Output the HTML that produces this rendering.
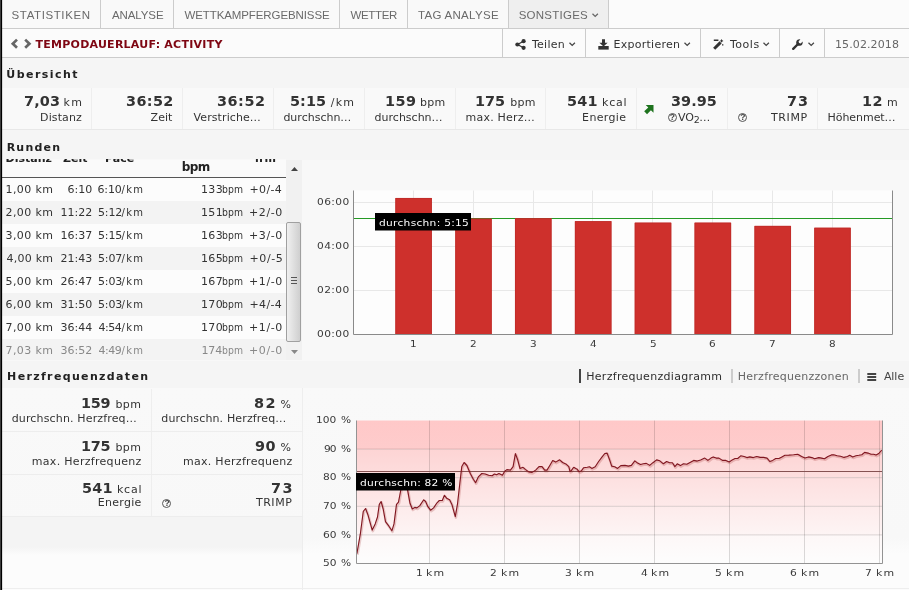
<!DOCTYPE html>
<html lang="de"><head><meta charset="utf-8"><title>Tempodauerlauf: Activity</title>
<style>
*{box-sizing:border-box;margin:0;padding:0}
html,body{width:909px;height:590px;overflow:hidden}
body{position:relative;background:#f5f5f5;font:11px/20px "DejaVu Sans", "Liberation Sans", sans-serif;color:#333}
.abs{position:absolute}
span{position:absolute;white-space:nowrap;line-height:20px}
#lb{left:0;top:0;width:3px;height:590px;background:linear-gradient(90deg,#3c3c3c 0,#3c3c3c 1px,#000 1px,#000 2px,rgba(0,0,0,.12) 2px);z-index:5}
.a{font-family:"Liberation Sans", sans-serif}
#tabs{left:0;top:0;width:909px;height:29px;border-bottom:1px solid #ccc;background:#fbfbfb}
#tabs div{position:absolute;top:0;height:28px;border-right:1px solid #ccc;background:#f9f9f9}
#hdr{left:0;top:29px;width:909px;height:29px;border-bottom:1px solid #ccc;background:#fbfbfb}
.hb{position:absolute;top:29px;height:28px;border-left:1px solid #ccc}
svg{position:absolute;overflow:visible}
.cell{position:absolute;border-right:1px solid #eee}
.pan{position:absolute;left:2px;width:907px;background:#f9f9f9}
.hr{border-bottom:1px solid #ededed}
.q{position:absolute;width:9px;height:9px;border:1px solid #555;border-radius:50%}
#tbl{left:2px;top:159px;width:284px;height:201px;overflow:hidden}
.row{position:absolute;left:2px;width:284px;height:23px}
#sb{left:286px;top:160px;width:16px;height:200px;background:#f1f1f1}
.sep{position:absolute;top:369px;width:2px;height:14px}
</style></head>
<body>
<div class="abs" id="lb"></div>
<div class="pan" style="top:88px;height:41px"></div>
<div class="pan" style="top:160px;height:201px;background:#f8f8f8"></div>
<div class="pan" style="top:388px;height:202px;background:linear-gradient(#f9f9f9 0,#f8f8f8 150px,#fcfcfc 166px)"></div>
<div class="pan" style="top:517px;width:300px;height:73px;background:linear-gradient(#f4f4f4 0,#f4f4f4 30px,#fcfcfc 38px)"></div>
<div class="abs" style="left:302px;top:388px;width:1px;height:202px;background:#ededed"></div>
<div class="abs" style="left:2px;top:588px;width:907px;height:1px;background:#eee"></div>
<div class="abs" id="tabs"><div style="left:2px;width:99px"></div><div style="left:101px;width:73px"></div><div style="left:174px;width:166px"></div><div style="left:340px;width:68px"></div><div style="left:408px;width:101px"></div><div style="left:509px;width:100px;background:#efefef"></div><span class="a" style="left:11.6px;top:5.3px;font-size:11.5px;color:#6a6a6a;letter-spacing:0.6px;">STATISTIKEN</span><span class="a" style="left:112.0px;top:5.3px;font-size:11.5px;color:#6a6a6a;letter-spacing:-0.1px;">ANALYSE</span><span class="a" style="left:184.5px;top:5.3px;font-size:11.5px;color:#6a6a6a;letter-spacing:-0.1px;">WETTKAMPFERGEBNISSE</span><span class="a" style="left:350.5px;top:5.3px;font-size:11.5px;color:#6a6a6a;letter-spacing:-0.35px;">WETTER</span><span class="a" style="left:418.0px;top:5.3px;font-size:11.5px;color:#6a6a6a;letter-spacing:0.3px;">TAG ANALYSE</span><span class="a" style="left:518.7px;top:5.3px;font-size:11.5px;color:#6a6a6a;letter-spacing:0.25px;">SONSTIGES</span><svg style="left:591.6px;top:13px" width="7" height="5" viewBox="0 0 7 5"><path d="M0.5 0.7 L3.2 3.4 L5.9 0.7" fill="none" stroke="#666" stroke-width="1.25"/></svg></div>
<div class="abs" id="hdr"></div>
<svg style="left:10px;top:38px" width="23" height="12" viewBox="0 0 23 12"><path d="M7 1.6 L2.8 5.7 L7 9.8" fill="none" stroke="#666" stroke-width="2.7"/><path d="M15.2 1.6 L19.4 5.7 L15.2 9.8" fill="none" stroke="#666" stroke-width="2.7"/></svg>
<span style="left:35.5px;top:35.3px;font-weight:bold;color:#7e0612;letter-spacing:0.25px;">TEMPODAUERLAUF: ACTIVITY</span>
<div class="hb" style="left:502px;width:83px"></div>
<div class="hb" style="left:585px;width:115px"></div>
<div class="hb" style="left:700px;width:79px"></div>
<div class="hb" style="left:779px;width:45px"></div>
<div class="hb" style="left:824px;width:85px"></div>
<svg style="left:515px;top:38.5px" width="11" height="11" viewBox="0 0 11 11"><path d="M2.5 5.5 L8.5 2.2 M2.5 5.5 L8.5 8.8" stroke="#333" stroke-width="1.3" fill="none"/><circle cx="2.4" cy="5.5" r="2.1" fill="#333"/><circle cx="8.6" cy="2.2" r="2.1" fill="#333"/><circle cx="8.6" cy="8.8" r="2.1" fill="#333"/></svg>
<span style="left:532.0px;top:35.1px;letter-spacing:0.25px;">Teilen</span>
<svg style="left:568.5px;top:42px" width="7" height="5" viewBox="0 0 7 5"><path d="M0.5 0.7 L3.2 3.4 L5.9 0.7" fill="none" stroke="#444" stroke-width="1.25"/></svg>
<svg style="left:597.5px;top:38.5px" width="11" height="11" viewBox="0 0 11 11"><path d="M4 0.3 h3 v3.4 h2.6 L5.5 7.6 L1.4 3.7 h2.6z" fill="#333"/><path d="M0.3 7 h10.4 v3.6 h-10.4z" fill="#333"/></svg>
<span style="left:613.6px;top:35.1px;letter-spacing:0.25px;">Exportieren</span>
<svg style="left:683.5px;top:42px" width="7" height="5" viewBox="0 0 7 5"><path d="M0.5 0.7 L3.2 3.4 L5.9 0.7" fill="none" stroke="#444" stroke-width="1.25"/></svg>
<svg style="left:713px;top:38.5px" width="11" height="11" viewBox="0 0 11 11"><path d="M1.2 9.8 L7.6 3.4" stroke="#333" stroke-width="3" fill="none"/><path d="M0.8 0.6 H5.4 V1.9 H0.8z M8.6 0 L9.3 1.2 L10.5 1.9 L9.3 2.6 L8.6 3.8 L7.9 2.6 L6.7 1.9 L7.9 1.2z M9 5.2 H10.4 V6.4 H9z" fill="#333"/></svg>
<span style="left:729.9px;top:35.1px;letter-spacing:0.55px;">Tools</span>
<svg style="left:762.5px;top:42px" width="7" height="5" viewBox="0 0 7 5"><path d="M0.5 0.7 L3.2 3.4 L5.9 0.7" fill="none" stroke="#444" stroke-width="1.25"/></svg>
<svg style="left:792px;top:38.5px" width="11" height="11" viewBox="0 0 11 11"><path d="M1.2 9.8 L6 5" stroke="#333" stroke-width="2.4" stroke-linecap="round" fill="none"/><path d="M10.6 2.6 A3.3 3.3 0 1 1 8.4 0.4 L6.6 2.2 L7 4 L8.8 4.4z" fill="#333"/></svg>
<svg style="left:807.5px;top:42px" width="7" height="5" viewBox="0 0 7 5"><path d="M0.5 0.7 L3.2 3.4 L5.9 0.7" fill="none" stroke="#444" stroke-width="1.25"/></svg>
<span style="left:835.0px;top:35.1px;color:#666;letter-spacing:0.1px;">15.02.2018</span>
<span style="left:6.3px;top:65.0px;font-weight:bold;color:#222;letter-spacing:1.45px;">Übersicht</span>
<div class="cell" style="left:2px;top:88px;width:90px;height:41px"></div>
<div class="cell" style="left:92px;top:88px;width:91px;height:41px"></div>
<div class="cell" style="left:183px;top:88px;width:91px;height:41px"></div>
<div class="cell" style="left:274px;top:88px;width:91px;height:41px"></div>
<div class="cell" style="left:365px;top:88px;width:91px;height:41px"></div>
<div class="cell" style="left:456px;top:88px;width:90px;height:41px"></div>
<div class="cell" style="left:546px;top:88px;width:91px;height:41px"></div>
<div class="cell" style="left:637px;top:88px;width:91px;height:41px"></div>
<div class="cell" style="left:728px;top:88px;width:90px;height:41px"></div>
<div class="cell" style="left:818px;top:88px;width:92px;height:41px"></div>
<div class="abs" style="left:2px;top:129px;width:907px;height:1px;background:#e8e8e8"></div>
<span style="left:23.9px;top:90.5px;font-weight:bold;font-size:14px;letter-spacing:0.15px;transform:scaleX(1.03);transform-origin:0 0;">7,03</span>
<span style="left:63.5px;top:92.5px;letter-spacing:1.4px;">km</span>
<span style="left:40.1px;top:108.0px;letter-spacing:0.1px;">Distanz</span>
<span style="left:125.6px;top:90.5px;font-weight:bold;font-size:14px;letter-spacing:0.35px;transform:scaleX(1.03);transform-origin:0 0;">36:52</span>
<span style="left:150.6px;top:108.0px;">Zeit</span>
<span style="left:216.6px;top:90.5px;font-weight:bold;font-size:14px;letter-spacing:0.5px;transform:scaleX(1.03);transform-origin:0 0;">36:52</span>
<span style="left:193.5px;top:108.0px;letter-spacing:0.1px;">Verstriche…</span>
<span style="left:289.8px;top:90.5px;font-weight:bold;font-size:14px;letter-spacing:0.05px;transform:scaleX(1.03);transform-origin:0 0;">5:15</span>
<span style="left:330.7px;top:92.5px;letter-spacing:1.3px;">/km</span>
<span style="left:283.4px;top:108.0px;">durchschn…</span>
<span style="left:385.0px;top:90.5px;font-weight:bold;font-size:14px;letter-spacing:0.45px;transform:scaleX(1.03);transform-origin:0 0;">159</span>
<span style="left:419.9px;top:92.5px;letter-spacing:0.3px;">bpm</span>
<span style="left:374.6px;top:108.0px;">durchschn…</span>
<span style="left:475.4px;top:90.5px;font-weight:bold;font-size:14px;transform:scaleX(1.03);transform-origin:0 0;">175</span>
<span style="left:510.2px;top:92.5px;letter-spacing:0.3px;">bpm</span>
<span style="left:465.6px;top:108.0px;letter-spacing:0.2px;">max. Herz…</span>
<span style="left:567.3px;top:90.5px;font-weight:bold;font-size:14px;letter-spacing:0.25px;transform:scaleX(1.03);transform-origin:0 0;">541</span>
<span style="left:602.0px;top:92.5px;letter-spacing:0.8px;">kcal</span>
<span style="left:582.1px;top:108.0px;letter-spacing:0.35px;">Energie</span>
<svg style="left:643.7px;top:104.5px" width="9.5" height="9.5" viewBox="0 0 10 10"><path d="M1.8 0 H10 V8.2 L7.3 5.5 L3.2 9.7 L0.2 6.7 L4.5 2.7z" fill="#1e731e"/></svg>
<span style="left:671.3px;top:90.5px;font-weight:bold;font-size:14px;letter-spacing:0.05px;transform:scaleX(1.03);transform-origin:0 0;">39.95</span>
<div class="q" style="left:667.5px;top:112.7px"></div><span class="a" style="left:669.8px;top:107.3px;font-weight:bold;font-size:8.5px;color:#444;">?</span>
<span style="left:678.0px;top:108.0px;">VO</span>
<span style="left:693.8px;top:110.2px;font-size:9.5px;">2</span>
<span style="left:699.3px;top:108.0px;">…</span>
<span style="left:786.9px;top:90.5px;font-weight:bold;font-size:14px;letter-spacing:0.85px;transform:scaleX(1.03);transform-origin:0 0;">73</span>
<span style="left:771.0px;top:108.0px;letter-spacing:0.6px;">TRIMP</span>
<div class="q" style="left:738.0px;top:112.7px"></div><span class="a" style="left:740.3px;top:107.3px;font-weight:bold;font-size:8.5px;color:#444;">?</span>
<span style="left:862.3px;top:90.5px;font-weight:bold;font-size:14px;letter-spacing:0.5px;transform:scaleX(1.03);transform-origin:0 0;">12</span>
<span style="left:887.1px;top:92.5px;">m</span>
<span style="left:827.5px;top:108.0px;letter-spacing:-0.05px;">Höhenmet…</span>
<span style="left:6.7px;top:138.2px;font-weight:bold;color:#222;letter-spacing:1.2px;">Runden</span>
<div class="abs" style="left:2px;top:159px;width:284px;height:18px;background:rgba(255,255,255,.3)"></div>
<div class="abs" style="left:0;top:159px;width:286px;height:18px;overflow:hidden"><span style="left:5.5px;top:-9.7px;font-weight:bold;color:#222;">Distanz</span><span style="left:63.0px;top:-9.7px;font-weight:bold;color:#222;">Zeit</span><span style="left:105.0px;top:-9.7px;font-weight:bold;color:#222;">Pace</span><span style="left:181.7px;top:-2.4px;font-weight:bold;font-size:12px;color:#222;letter-spacing:-0.5px;">bpm</span><span style="left:255.0px;top:-9.7px;font-weight:bold;color:#222;letter-spacing:1.6px;">hm</span></div>
<div class="abs" style="left:2px;top:177px;width:284px;height:1px;background:#555"></div>
<div class="row" style="top:178px;height:23px;background:rgba(255,255,255,.5)"></div>
<span style="left:5.5px;top:180.3px;letter-spacing:0.4px;">1,00 km</span>
<span style="left:67.5px;top:180.3px;">6:10</span>
<span style="left:97.5px;top:180.3px;letter-spacing:-0.15px;">6:10</span>
<span style="left:121.6px;top:180.3px;font-size:10px;letter-spacing:1.2px;">/km</span>
<span style="left:200.9px;top:180.3px;letter-spacing:0.4px;">133</span>
<span style="left:221.7px;top:180.3px;font-size:10px;letter-spacing:0.1px;transform:scaleX(0.93);transform-origin:0 0;">bpm</span>
<span style="left:249.5px;top:180.3px;letter-spacing:0.35px;">+0/-4</span>
<div class="row" style="top:201px;height:23px;background:rgba(0,0,0,.02)"></div>
<span style="left:5.5px;top:203.3px;letter-spacing:0.4px;">2,00 km</span>
<span style="left:60.5px;top:203.3px;">11:22</span>
<span style="left:98.0px;top:203.3px;letter-spacing:-0.15px;">5:12</span>
<span style="left:121.6px;top:203.3px;font-size:10px;letter-spacing:1.2px;">/km</span>
<span style="left:200.9px;top:203.3px;letter-spacing:0.4px;">151</span>
<span style="left:221.7px;top:203.3px;font-size:10px;letter-spacing:0.1px;transform:scaleX(0.93);transform-origin:0 0;">bpm</span>
<span style="left:249.0px;top:203.3px;letter-spacing:0.6px;">+2/-0</span>
<div class="row" style="top:224px;height:23px;background:rgba(255,255,255,.5)"></div>
<span style="left:5.5px;top:226.3px;letter-spacing:0.4px;">3,00 km</span>
<span style="left:60.5px;top:226.3px;">16:37</span>
<span style="left:98.0px;top:226.3px;letter-spacing:-0.15px;">5:15</span>
<span style="left:121.6px;top:226.3px;font-size:10px;letter-spacing:1.2px;">/km</span>
<span style="left:200.9px;top:226.3px;letter-spacing:0.4px;">163</span>
<span style="left:221.7px;top:226.3px;font-size:10px;letter-spacing:0.1px;transform:scaleX(0.93);transform-origin:0 0;">bpm</span>
<span style="left:249.0px;top:226.3px;letter-spacing:0.6px;">+3/-0</span>
<div class="row" style="top:247px;height:23px;background:rgba(0,0,0,.02)"></div>
<span style="left:6.5px;top:249.3px;letter-spacing:0.25px;">4,00 km</span>
<span style="left:60.5px;top:249.3px;">21:43</span>
<span style="left:98.0px;top:249.3px;letter-spacing:-0.15px;">5:07</span>
<span style="left:121.6px;top:249.3px;font-size:10px;letter-spacing:1.2px;">/km</span>
<span style="left:200.9px;top:249.3px;letter-spacing:0.4px;">165</span>
<span style="left:221.7px;top:249.3px;font-size:10px;letter-spacing:0.1px;transform:scaleX(0.93);transform-origin:0 0;">bpm</span>
<span style="left:249.5px;top:249.3px;letter-spacing:0.6px;">+0/-5</span>
<div class="row" style="top:270px;height:23px;background:rgba(255,255,255,.5)"></div>
<span style="left:5.5px;top:272.3px;letter-spacing:0.4px;">5,00 km</span>
<span style="left:60.5px;top:272.3px;">26:47</span>
<span style="left:98.0px;top:272.3px;letter-spacing:-0.15px;">5:03</span>
<span style="left:121.6px;top:272.3px;font-size:10px;letter-spacing:1.2px;">/km</span>
<span style="left:200.9px;top:272.3px;letter-spacing:0.4px;">167</span>
<span style="left:221.7px;top:272.3px;font-size:10px;letter-spacing:0.1px;transform:scaleX(0.93);transform-origin:0 0;">bpm</span>
<span style="left:249.0px;top:272.3px;letter-spacing:0.6px;">+1/-0</span>
<div class="row" style="top:293px;height:23px;background:rgba(0,0,0,.02)"></div>
<span style="left:5.5px;top:295.3px;letter-spacing:0.4px;">6,00 km</span>
<span style="left:60.5px;top:295.3px;">31:50</span>
<span style="left:98.0px;top:295.3px;letter-spacing:-0.15px;">5:03</span>
<span style="left:121.6px;top:295.3px;font-size:10px;letter-spacing:1.2px;">/km</span>
<span style="left:200.9px;top:295.3px;letter-spacing:0.4px;">170</span>
<span style="left:221.7px;top:295.3px;font-size:10px;letter-spacing:0.1px;transform:scaleX(0.93);transform-origin:0 0;">bpm</span>
<span style="left:249.5px;top:295.3px;letter-spacing:0.35px;">+4/-4</span>
<div class="row" style="top:316px;height:23px;background:rgba(255,255,255,.5)"></div>
<span style="left:5.5px;top:318.3px;letter-spacing:0.4px;">7,00 km</span>
<span style="left:60.5px;top:318.3px;">36:44</span>
<span style="left:98.5px;top:318.3px;letter-spacing:-0.45px;">4:54</span>
<span style="left:121.6px;top:318.3px;font-size:10px;letter-spacing:1.2px;">/km</span>
<span style="left:200.9px;top:318.3px;letter-spacing:0.4px;">170</span>
<span style="left:221.7px;top:318.3px;font-size:10px;letter-spacing:0.1px;transform:scaleX(0.93);transform-origin:0 0;">bpm</span>
<span style="left:249.0px;top:318.3px;letter-spacing:0.6px;">+1/-0</span>
<div class="row" style="top:339px;height:21px;background:rgba(0,0,0,.02)"></div>
<span style="left:5.5px;top:341.3px;color:#888;letter-spacing:0.4px;">7,03 km</span>
<span style="left:60.5px;top:341.3px;color:#888;">36:52</span>
<span style="left:98.5px;top:341.3px;color:#888;letter-spacing:-0.45px;">4:49</span>
<span style="left:121.6px;top:341.3px;font-size:10px;color:#888;letter-spacing:1.2px;">/km</span>
<span style="left:201.4px;top:341.3px;color:#888;letter-spacing:-0.1px;">174</span>
<span style="left:221.7px;top:341.3px;font-size:10px;color:#888;letter-spacing:0.1px;transform:scaleX(0.93);transform-origin:0 0;">bpm</span>
<span style="left:249.0px;top:341.3px;color:#888;letter-spacing:0.6px;">+0/-0</span>
<div class="abs" id="sb"><svg style="left:4.5px;top:6.5px" width="7" height="4" viewBox="0 0 7 4"><path d="M0 4 L3.5 0 L7 4z" fill="#444"/></svg><div class="abs" style="left:0px;top:62px;width:15px;height:120px;border:1px solid #a0a0a0;border-radius:2px;background:linear-gradient(90deg,#f0f0f0,#cfcfcf)"></div><div class="abs" style="left:4.5px;top:117px;width:6px;height:7px;border-top:1px solid #555;border-bottom:1px solid #555"><div style="margin-top:2px;height:1px;background:#555"></div></div><svg style="left:4.5px;top:189.5px" width="7" height="4" viewBox="0 0 7 4"><path d="M0 0 L3.5 4 L7 0z" fill="#888"/></svg></div>
<svg style="left:0;top:0" width="909" height="590" viewBox="0 0 909 590"><rect x="353.5" y="190.5" width="539.0" height="144.0" fill="#fdfdfd"/><line x1="353.5" x2="892.5" y1="290.5" y2="290.5" stroke="#e8e8e8" stroke-width="1"/><line x1="353.5" x2="892.5" y1="246.5" y2="246.5" stroke="#e8e8e8" stroke-width="1"/><line x1="353.5" x2="892.5" y1="202.5" y2="202.5" stroke="#e8e8e8" stroke-width="1"/><line x1="413.5" x2="413.5" y1="190.5" y2="334.5" stroke="#e8e8e8" stroke-width="1"/><line x1="473.5" x2="473.5" y1="190.5" y2="334.5" stroke="#e8e8e8" stroke-width="1"/><line x1="533.5" x2="533.5" y1="190.5" y2="334.5" stroke="#e8e8e8" stroke-width="1"/><line x1="592.5" x2="592.5" y1="190.5" y2="334.5" stroke="#e8e8e8" stroke-width="1"/><line x1="652.5" x2="652.5" y1="190.5" y2="334.5" stroke="#e8e8e8" stroke-width="1"/><line x1="712.5" x2="712.5" y1="190.5" y2="334.5" stroke="#e8e8e8" stroke-width="1"/><line x1="772.5" x2="772.5" y1="190.5" y2="334.5" stroke="#e8e8e8" stroke-width="1"/><line x1="832.5" x2="832.5" y1="190.5" y2="334.5" stroke="#e8e8e8" stroke-width="1"/><line x1="353.5" x2="892.5" y1="218.5" y2="218.5" stroke="#259a25" stroke-width="1"/><rect x="395.3" y="198.0" width="36.6" height="136.0" fill="#ce302c"/><path d="M395.7 334.0 V198.4 H431.5 V334.0" fill="none" stroke="#b72a27" stroke-opacity=".7" stroke-width="0.8"/><rect x="455.2" y="218.6" width="36.6" height="115.4" fill="#ce302c"/><path d="M455.6 334.0 V219.0 H491.4 V334.0" fill="none" stroke="#b72a27" stroke-opacity=".7" stroke-width="0.8"/><rect x="515.0" y="218.2" width="36.6" height="115.8" fill="#ce302c"/><path d="M515.4 334.0 V218.6 H551.2 V334.0" fill="none" stroke="#b72a27" stroke-opacity=".7" stroke-width="0.8"/><rect x="574.9" y="221.1" width="36.6" height="112.9" fill="#ce302c"/><path d="M575.3 334.0 V221.5 H611.1 V334.0" fill="none" stroke="#b72a27" stroke-opacity=".7" stroke-width="0.8"/><rect x="634.7" y="222.6" width="36.6" height="111.4" fill="#ce302c"/><path d="M635.1 334.0 V223.0 H670.9 V334.0" fill="none" stroke="#b72a27" stroke-opacity=".7" stroke-width="0.8"/><rect x="694.5" y="222.6" width="36.6" height="111.4" fill="#ce302c"/><path d="M694.9 334.0 V223.0 H730.7 V334.0" fill="none" stroke="#b72a27" stroke-opacity=".7" stroke-width="0.8"/><rect x="754.4" y="225.9" width="36.6" height="108.1" fill="#ce302c"/><path d="M754.8 334.0 V226.3 H790.6 V334.0" fill="none" stroke="#b72a27" stroke-opacity=".7" stroke-width="0.8"/><rect x="814.2" y="227.7" width="36.6" height="106.3" fill="#ce302c"/><path d="M814.6 334.0 V228.1 H850.4 V334.0" fill="none" stroke="#b72a27" stroke-opacity=".7" stroke-width="0.8"/><path d="M353.5 190.5 V334.5 H892.5 V190.5" fill="none" stroke="#8a8a8a" stroke-width="1"/><rect x="375" y="213" width="96" height="17.5" fill="#000"/></svg><span style="left:316.9px;top:324.1px;font-size:9.5px;color:#3a3a3a;letter-spacing:0.35px;transform:scaleX(1.12);transform-origin:0 0;">00:00</span><span style="left:316.9px;top:280.1px;font-size:9.5px;color:#3a3a3a;letter-spacing:0.35px;transform:scaleX(1.12);transform-origin:0 0;">02:00</span><span style="left:316.9px;top:236.1px;font-size:9.5px;color:#3a3a3a;letter-spacing:0.35px;transform:scaleX(1.12);transform-origin:0 0;">04:00</span><span style="left:316.9px;top:192.1px;font-size:9.5px;color:#3a3a3a;letter-spacing:0.35px;transform:scaleX(1.12);transform-origin:0 0;">06:00</span><span style="left:410.1px;top:334.1px;font-size:9.5px;color:#3a3a3a;transform:scaleX(1.1);transform-origin:0 0;">1</span><span style="left:470.0px;top:334.1px;font-size:9.5px;color:#3a3a3a;transform:scaleX(1.1);transform-origin:0 0;">2</span><span style="left:529.8px;top:334.1px;font-size:9.5px;color:#3a3a3a;transform:scaleX(1.1);transform-origin:0 0;">3</span><span style="left:590.2px;top:334.1px;font-size:9.5px;color:#3a3a3a;transform:scaleX(1.1);transform-origin:0 0;">4</span><span style="left:649.5px;top:334.1px;font-size:9.5px;color:#3a3a3a;transform:scaleX(1.1);transform-origin:0 0;">5</span><span style="left:708.8px;top:334.1px;font-size:9.5px;color:#3a3a3a;transform:scaleX(1.1);transform-origin:0 0;">6</span><span style="left:769.2px;top:334.1px;font-size:9.5px;color:#3a3a3a;transform:scaleX(1.1);transform-origin:0 0;">7</span><span style="left:829.0px;top:334.1px;font-size:9.5px;color:#3a3a3a;transform:scaleX(1.1);transform-origin:0 0;">8</span><span style="left:378.6px;top:212.6px;font-size:9.5px;color:#fff;letter-spacing:0.25px;transform:scaleX(1.12);transform-origin:0 0;">durchschn: 5:15</span>
<span style="left:7.1px;top:367.0px;font-weight:bold;color:#222;letter-spacing:1.35px;">Herzfrequenzdaten</span>
<div class="sep" style="left:579px;background:#444"></div>
<span style="left:586.2px;top:367.0px;color:#2e2e2e;letter-spacing:0.3px;">Herzfrequenzdiagramm</span>
<div class="sep" style="left:731px;background:#ccc"></div>
<span style="left:737.8px;top:367.0px;color:#666;letter-spacing:0.25px;">Herzfrequenzzonen</span>
<div class="sep" style="left:858px;background:#ccc"></div><svg style="left:867.3px;top:372.5px" width="9.5" height="8" viewBox="0 0 10 9"><path d="M0 1.1h10M0 4.5h10M0 7.9h10" stroke="#444" stroke-width="2.1"/></svg>
<span style="left:883.9px;top:367.0px;color:#444;letter-spacing:-0.05px;">Alle</span>
<div class="cell hr" style="left:2px;top:389px;width:150px;height:43px"></div>
<div class="cell hr" style="left:152px;top:389px;width:151px;height:43px"></div>
<div class="cell hr" style="left:2px;top:432px;width:150px;height:43px"></div>
<div class="cell hr" style="left:152px;top:432px;width:151px;height:43px"></div>
<div class="cell hr" style="left:2px;top:475px;width:150px;height:42px"></div>
<div class="cell hr" style="left:152px;top:475px;width:151px;height:42px"></div>
<span style="left:81.4px;top:393.0px;font-weight:bold;font-size:14px;letter-spacing:-0.25px;transform:scaleX(1.03);transform-origin:0 0;">159</span>
<span style="left:115.4px;top:395.0px;letter-spacing:0.4px;">bpm</span>
<span style="left:11.7px;top:408.8px;letter-spacing:0.15px;">durchschn. Herzfreq…</span>
<span style="left:81.4px;top:436.0px;font-weight:bold;font-size:14px;letter-spacing:-0.25px;transform:scaleX(1.03);transform-origin:0 0;">175</span>
<span style="left:115.4px;top:438.0px;letter-spacing:0.4px;">bpm</span>
<span style="left:31.8px;top:451.6px;letter-spacing:0.3px;">max. Herzfrequenz</span>
<span style="left:82.4px;top:477.9px;font-weight:bold;font-size:14px;letter-spacing:0.25px;transform:scaleX(1.03);transform-origin:0 0;">541</span>
<span style="left:117.0px;top:479.9px;letter-spacing:0.75px;">kcal</span>
<span style="left:97.7px;top:493.4px;letter-spacing:0.3px;">Energie</span>
<span style="left:254.3px;top:393.0px;font-weight:bold;font-size:14px;letter-spacing:1.45px;transform:scaleX(1.03);transform-origin:0 0;">82</span>
<span style="left:280.5px;top:395.0px;">%</span>
<span style="left:161.3px;top:408.9px;letter-spacing:0.15px;">durchschn. Herzfreq…</span>
<span style="left:254.8px;top:436.0px;font-weight:bold;font-size:14px;letter-spacing:0.45px;transform:scaleX(1.03);transform-origin:0 0;">90</span>
<span style="left:280.5px;top:438.0px;">%</span>
<span style="left:182.9px;top:451.6px;letter-spacing:0.3px;">max. Herzfrequenz</span>
<span style="left:270.9px;top:477.9px;font-weight:bold;font-size:14px;letter-spacing:1.45px;transform:scaleX(1.03);transform-origin:0 0;">73</span>
<span style="left:255.9px;top:493.4px;letter-spacing:0.55px;">TRIMP</span>
<div class="q" style="left:162.2px;top:498.7px"></div><span class="a" style="left:164.5px;top:493.3px;font-weight:bold;font-size:8.5px;color:#444;">?</span>
<svg style="left:0;top:0" width="909" height="590" viewBox="0 0 909 590"><rect x="356.5" y="420.5" width="526.0" height="143.0" fill="#fbfbfb"/><defs><linearGradient id="z0" x1="0" y1="0" x2="0" y2="1"><stop offset="0" stop-color="#ffc8c8"/><stop offset="1" stop-color="#fecccc"/></linearGradient><linearGradient id="z1" x1="0" y1="0" x2="0" y2="1"><stop offset="0" stop-color="#fdd4d4"/><stop offset="1" stop-color="#fddede"/></linearGradient><linearGradient id="z2" x1="0" y1="0" x2="0" y2="1"><stop offset="0" stop-color="#fde0e0"/><stop offset="1" stop-color="#fde9e9"/></linearGradient><linearGradient id="z3" x1="0" y1="0" x2="0" y2="1"><stop offset="0" stop-color="#fdebeb"/><stop offset="1" stop-color="#fdf4f4"/></linearGradient><linearGradient id="z4" x1="0" y1="0" x2="0" y2="1"><stop offset="0" stop-color="#fdf7f7"/><stop offset="1" stop-color="#fdfdfd"/></linearGradient></defs><rect x="356.5" y="420.5" width="526.0" height="28.6" fill="url(#z0)"/><rect x="356.5" y="449.1" width="526.0" height="28.6" fill="url(#z1)"/><rect x="356.5" y="477.7" width="526.0" height="28.6" fill="url(#z2)"/><rect x="356.5" y="506.3" width="526.0" height="28.6" fill="url(#z3)"/><rect x="356.5" y="534.9" width="526.0" height="28.6" fill="url(#z4)"/><line x1="356.5" x2="882.5" y1="449.1" y2="449.1" stroke="#000" stroke-opacity="0.14" stroke-width="1"/><line x1="356.5" x2="882.5" y1="477.7" y2="477.7" stroke="#000" stroke-opacity="0.14" stroke-width="1"/><line x1="356.5" x2="882.5" y1="506.3" y2="506.3" stroke="#000" stroke-opacity="0.14" stroke-width="1"/><line x1="356.5" x2="882.5" y1="534.9" y2="534.9" stroke="#000" stroke-opacity="0.14" stroke-width="1"/><line x1="429.5" x2="429.5" y1="420.5" y2="563.5" stroke="#000" stroke-opacity="0.14" stroke-width="1"/><line x1="504.5" x2="504.5" y1="420.5" y2="563.5" stroke="#000" stroke-opacity="0.14" stroke-width="1"/><line x1="579.5" x2="579.5" y1="420.5" y2="563.5" stroke="#000" stroke-opacity="0.14" stroke-width="1"/><line x1="654.5" x2="654.5" y1="420.5" y2="563.5" stroke="#000" stroke-opacity="0.14" stroke-width="1"/><line x1="729.5" x2="729.5" y1="420.5" y2="563.5" stroke="#000" stroke-opacity="0.14" stroke-width="1"/><line x1="804.5" x2="804.5" y1="420.5" y2="563.5" stroke="#000" stroke-opacity="0.14" stroke-width="1"/><line x1="879.5" x2="879.5" y1="420.5" y2="563.5" stroke="#000" stroke-opacity="0.14" stroke-width="1"/><line x1="356.5" x2="882.5" y1="471.5" y2="471.5" stroke="#855252" stroke-width="1"/><path d="M356.9 553.7 L360.3 534.2 L363.3 511.3 L365.6 508.5 L367.9 514.7 L372.2 530.1 L375.2 523.9 L377.5 517.0 L379.3 504.4 L381.1 501.5 L383.2 509.0 L385.5 521.6 L388.9 526.2 L391.9 530.8 L394.0 523.9 L396.5 504.4 L398.5 502.1 L400.8 490.0 L402.7 483.8 L404.3 481.5 L406.1 485.0 L407.7 490.7 L410.0 503.3 L412.3 509.0 L414.8 507.4 L416.9 507.9 L419.8 505.6 L423.7 499.8 L425.6 501.5 L427.9 506.7 L430.6 510.2 L433.6 507.9 L437.0 502.8 L439.3 500.5 L442.3 500.5 L444.4 495.3 L446.6 498.2 L449.6 499.8 L451.9 504.4 L455.3 516.6 L457.6 503.3 L459.9 482.7 L461.8 466.6 L464.1 462.5 L466.9 465.5 L470.3 473.5 L473.3 479.2 L475.6 482.7 L478.3 476.9 L481.8 473.5 L485.2 474.0 L488.6 475.3 L492.1 475.8 L494.4 474.0 L496.6 474.7 L498.9 473.5 L502.4 475.3 L504.7 471.2 L506.9 469.6 L510.4 470.1 L513.1 466.6 L515.4 453.6 L517.7 459.8 L520.0 468.5 L523.0 467.3 L525.3 469.4 L528.7 471.9 L532.1 472.4 L535.6 470.1 L539.0 466.6 L542.0 466.6 L544.7 470.1 L547.0 470.1 L549.8 465.5 L552.7 460.5 L555.7 462.1 L559.6 459.8 L562.6 462.5 L565.8 463.9 L568.8 466.6 L570.0 471.4 L571.1 470.8 L573.4 467.7 L573.8 467.3 L575.7 468.4 L576.8 468.9 L579.2 471.8 L581.5 470.7 L583.7 467.7 L587.2 467.3 L589.5 466.8 L591.8 468.4 L595.2 466.8 L598.6 461.5 L602.1 456.9 L604.8 453.5 L607.1 453.1 L609.4 459.2 L611.7 466.1 L614.7 466.8 L617.6 468.4 L620.8 465.6 L625.0 465.4 L628.4 466.1 L631.4 465.4 L634.8 460.8 L637.6 463.1 L640.5 464.5 L643.3 463.8 L646.3 463.4 L649.7 465.4 L652.9 462.7 L656.6 459.9 L659.8 460.8 L663.4 463.8 L666.6 461.5 L669.6 462.7 L672.4 462.7 L674.9 466.6 L677.2 463.8 L680.4 465.6 L683.4 463.8 L686.8 464.3 L693.7 460.4 L697.2 461.1 L700.6 459.9 L704.7 458.1 L707.9 460.4 L710.9 458.1 L713.2 456.9 L716.2 458.1 L718.9 458.1 L722.4 460.4 L725.8 460.4 L729.2 462.0 L732.2 459.9 L735.0 458.5 L737.7 458.5 L740.7 455.8 L744.1 456.5 L746.9 457.6 L749.8 456.9 L753.3 457.6 L756.7 456.5 L760.2 457.4 L763.6 457.4 L767.0 458.1 L769.8 461.5 L772.7 460.4 L775.7 458.5 L778.9 458.5 L781.9 456.9 L784.9 455.3 L788.8 455.1 L793.6 454.7 L797.7 454.2 L801.6 456.5 L805.0 458.1 L808.5 456.9 L811.9 457.6 L814.6 458.8 L818.8 457.6 L821.5 458.1 L824.5 458.8 L827.9 456.5 L831.4 454.9 L833.7 454.7 L837.1 455.8 L840.5 456.3 L844.0 457.4 L847.4 456.5 L849.7 455.3 L852.7 456.9 L855.9 455.8 L858.8 455.3 L861.8 454.7 L864.6 452.4 L868.0 453.1 L871.0 454.2 L873.7 454.2 L876.0 455.1 L878.8 453.5 L881.7 450.1" transform="translate(0.6,1)" fill="none" stroke="#800" stroke-opacity="0.18" stroke-width="2.6" stroke-linejoin="round"/><path d="M356.9 553.7 L360.3 534.2 L363.3 511.3 L365.6 508.5 L367.9 514.7 L372.2 530.1 L375.2 523.9 L377.5 517.0 L379.3 504.4 L381.1 501.5 L383.2 509.0 L385.5 521.6 L388.9 526.2 L391.9 530.8 L394.0 523.9 L396.5 504.4 L398.5 502.1 L400.8 490.0 L402.7 483.8 L404.3 481.5 L406.1 485.0 L407.7 490.7 L410.0 503.3 L412.3 509.0 L414.8 507.4 L416.9 507.9 L419.8 505.6 L423.7 499.8 L425.6 501.5 L427.9 506.7 L430.6 510.2 L433.6 507.9 L437.0 502.8 L439.3 500.5 L442.3 500.5 L444.4 495.3 L446.6 498.2 L449.6 499.8 L451.9 504.4 L455.3 516.6 L457.6 503.3 L459.9 482.7 L461.8 466.6 L464.1 462.5 L466.9 465.5 L470.3 473.5 L473.3 479.2 L475.6 482.7 L478.3 476.9 L481.8 473.5 L485.2 474.0 L488.6 475.3 L492.1 475.8 L494.4 474.0 L496.6 474.7 L498.9 473.5 L502.4 475.3 L504.7 471.2 L506.9 469.6 L510.4 470.1 L513.1 466.6 L515.4 453.6 L517.7 459.8 L520.0 468.5 L523.0 467.3 L525.3 469.4 L528.7 471.9 L532.1 472.4 L535.6 470.1 L539.0 466.6 L542.0 466.6 L544.7 470.1 L547.0 470.1 L549.8 465.5 L552.7 460.5 L555.7 462.1 L559.6 459.8 L562.6 462.5 L565.8 463.9 L568.8 466.6 L570.0 471.4 L571.1 470.8 L573.4 467.7 L573.8 467.3 L575.7 468.4 L576.8 468.9 L579.2 471.8 L581.5 470.7 L583.7 467.7 L587.2 467.3 L589.5 466.8 L591.8 468.4 L595.2 466.8 L598.6 461.5 L602.1 456.9 L604.8 453.5 L607.1 453.1 L609.4 459.2 L611.7 466.1 L614.7 466.8 L617.6 468.4 L620.8 465.6 L625.0 465.4 L628.4 466.1 L631.4 465.4 L634.8 460.8 L637.6 463.1 L640.5 464.5 L643.3 463.8 L646.3 463.4 L649.7 465.4 L652.9 462.7 L656.6 459.9 L659.8 460.8 L663.4 463.8 L666.6 461.5 L669.6 462.7 L672.4 462.7 L674.9 466.6 L677.2 463.8 L680.4 465.6 L683.4 463.8 L686.8 464.3 L693.7 460.4 L697.2 461.1 L700.6 459.9 L704.7 458.1 L707.9 460.4 L710.9 458.1 L713.2 456.9 L716.2 458.1 L718.9 458.1 L722.4 460.4 L725.8 460.4 L729.2 462.0 L732.2 459.9 L735.0 458.5 L737.7 458.5 L740.7 455.8 L744.1 456.5 L746.9 457.6 L749.8 456.9 L753.3 457.6 L756.7 456.5 L760.2 457.4 L763.6 457.4 L767.0 458.1 L769.8 461.5 L772.7 460.4 L775.7 458.5 L778.9 458.5 L781.9 456.9 L784.9 455.3 L788.8 455.1 L793.6 454.7 L797.7 454.2 L801.6 456.5 L805.0 458.1 L808.5 456.9 L811.9 457.6 L814.6 458.8 L818.8 457.6 L821.5 458.1 L824.5 458.8 L827.9 456.5 L831.4 454.9 L833.7 454.7 L837.1 455.8 L840.5 456.3 L844.0 457.4 L847.4 456.5 L849.7 455.3 L852.7 456.9 L855.9 455.8 L858.8 455.3 L861.8 454.7 L864.6 452.4 L868.0 453.1 L871.0 454.2 L873.7 454.2 L876.0 455.1 L878.8 453.5 L881.7 450.1" fill="none" stroke="#801620" stroke-width="1.1" stroke-linejoin="round"/><path d="M356.5 420.5 V563.5 H882.5 V420.5" fill="none" stroke="#939393" stroke-width="1"/><rect x="356" y="473" width="99" height="17.5" fill="#000"/></svg><span style="left:316.0px;top:410.1px;font-size:9.5px;color:#3a3a3a;letter-spacing:-0.05px;transform:scaleX(1.12);transform-origin:0 0;">100</span><span style="left:341.4px;top:410.1px;font-size:9.5px;color:#3a3a3a;transform:scaleX(1.12);transform-origin:0 0;">%</span><span style="left:323.8px;top:438.7px;font-size:9.5px;color:#3a3a3a;letter-spacing:-0.8px;transform:scaleX(1.12);transform-origin:0 0;">90</span><span style="left:341.4px;top:438.7px;font-size:9.5px;color:#3a3a3a;transform:scaleX(1.12);transform-origin:0 0;">%</span><span style="left:322.7px;top:467.3px;font-size:9.5px;color:#3a3a3a;letter-spacing:-0.1px;transform:scaleX(1.12);transform-origin:0 0;">80</span><span style="left:341.4px;top:467.3px;font-size:9.5px;color:#3a3a3a;transform:scaleX(1.12);transform-origin:0 0;">%</span><span style="left:322.7px;top:495.9px;font-size:9.5px;color:#3a3a3a;letter-spacing:-0.1px;transform:scaleX(1.12);transform-origin:0 0;">70</span><span style="left:341.4px;top:495.9px;font-size:9.5px;color:#3a3a3a;transform:scaleX(1.12);transform-origin:0 0;">%</span><span style="left:322.7px;top:524.5px;font-size:9.5px;color:#3a3a3a;letter-spacing:-0.1px;transform:scaleX(1.12);transform-origin:0 0;">60</span><span style="left:341.4px;top:524.5px;font-size:9.5px;color:#3a3a3a;transform:scaleX(1.12);transform-origin:0 0;">%</span><span style="left:322.7px;top:553.1px;font-size:9.5px;color:#3a3a3a;letter-spacing:-0.1px;transform:scaleX(1.12);transform-origin:0 0;">50</span><span style="left:341.4px;top:553.1px;font-size:9.5px;color:#3a3a3a;transform:scaleX(1.12);transform-origin:0 0;">%</span><span style="left:415.8px;top:563.2px;font-size:9.5px;color:#3a3a3a;transform:scaleX(1.12);transform-origin:0 0;">1</span><span style="left:426.0px;top:563.2px;font-size:9.5px;color:#3a3a3a;letter-spacing:1.1px;transform:scaleX(1.15);transform-origin:0 0;">km</span><span style="left:490.2px;top:563.2px;font-size:9.5px;color:#3a3a3a;transform:scaleX(1.12);transform-origin:0 0;">2</span><span style="left:501.0px;top:563.2px;font-size:9.5px;color:#3a3a3a;letter-spacing:1.1px;transform:scaleX(1.15);transform-origin:0 0;">km</span><span style="left:565.2px;top:563.2px;font-size:9.5px;color:#3a3a3a;transform:scaleX(1.12);transform-origin:0 0;">3</span><span style="left:576.0px;top:563.2px;font-size:9.5px;color:#3a3a3a;letter-spacing:1.1px;transform:scaleX(1.15);transform-origin:0 0;">km</span><span style="left:641.3px;top:563.2px;font-size:9.5px;color:#3a3a3a;transform:scaleX(1.12);transform-origin:0 0;">4</span><span style="left:651.0px;top:563.2px;font-size:9.5px;color:#3a3a3a;letter-spacing:1.1px;transform:scaleX(1.15);transform-origin:0 0;">km</span><span style="left:715.2px;top:563.2px;font-size:9.5px;color:#3a3a3a;transform:scaleX(1.12);transform-origin:0 0;">5</span><span style="left:726.0px;top:563.2px;font-size:9.5px;color:#3a3a3a;letter-spacing:1.1px;transform:scaleX(1.15);transform-origin:0 0;">km</span><span style="left:790.2px;top:563.2px;font-size:9.5px;color:#3a3a3a;transform:scaleX(1.12);transform-origin:0 0;">6</span><span style="left:801.0px;top:563.2px;font-size:9.5px;color:#3a3a3a;letter-spacing:1.1px;transform:scaleX(1.15);transform-origin:0 0;">km</span><span style="left:865.2px;top:563.2px;font-size:9.5px;color:#3a3a3a;transform:scaleX(1.12);transform-origin:0 0;">7</span><span style="left:876.0px;top:563.2px;font-size:9.5px;color:#3a3a3a;letter-spacing:1.1px;transform:scaleX(1.15);transform-origin:0 0;">km</span><span style="left:359.6px;top:472.6px;font-size:9.5px;color:#fff;letter-spacing:0.2px;transform:scaleX(1.12);transform-origin:0 0;">durchschn: 82 %</span>
</body></html>
